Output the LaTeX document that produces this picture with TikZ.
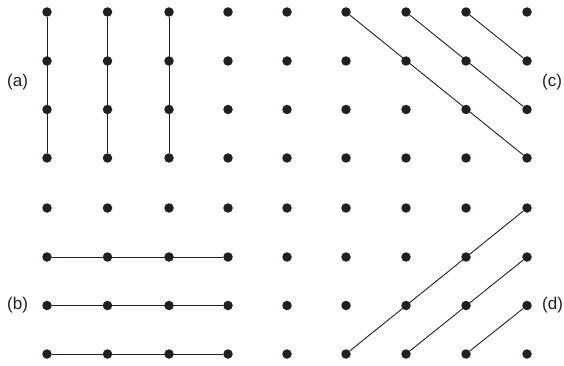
\documentclass[tikz,border=0pt]{standalone}
\usepackage{fontspec}
\setmainfont{Liberation Sans}
\definecolor{ink}{HTML}{231F20}
\begin{document}
\begin{tikzpicture}[x=1pt,y=-1pt,
  dot/.style={circle,fill=ink,inner sep=0pt,minimum size=9.5pt},
  link/.style={draw=ink,line width=0.9pt},
  lab/.style={font=\fontsize{17}{20}\selectfont,text=ink,inner sep=0pt}]
\useasboundingbox (0,0) rectangle (564,366);
\foreach \c/\x in {0/47,1/107.5,2/169,3/228,4/287,5/346,6/406,7/466,8/527}{
  \foreach \r/\y in {0/12,1/61,2/109.5,3/158,4/208,5/257,6/305.5,7/354}{
    \node[dot] (p\c-\r) at (\x,\y) {};
  }
}
% (a)
\foreach \c in {0,1,2}{\draw[link] (p\c-0) -- (p\c-3);}
% (b)
\foreach \r in {5,6,7}{\draw[link] (p0-\r) -- (p3-\r);}
% (c)
\draw[link] (p5-0) -- (p8-3);
\draw[link] (p6-0) -- (p8-2);
\draw[link] (p7-0) -- (p8-1);
% (d)
\draw[link] (p5-7) -- (p8-4);
\draw[link] (p6-7) -- (p8-5);
\draw[link] (p7-7) -- (p8-6);
\node[lab,anchor=west] (la) at (7,82) {(a)};
\node[lab,anchor=west] (lb) at (7,305) {(b)};
\node[lab,anchor=west] (lc) at (542,82) {(c)};
\node[lab,anchor=west] (ld) at (542,305) {(d)};
\end{tikzpicture}
\end{document}
